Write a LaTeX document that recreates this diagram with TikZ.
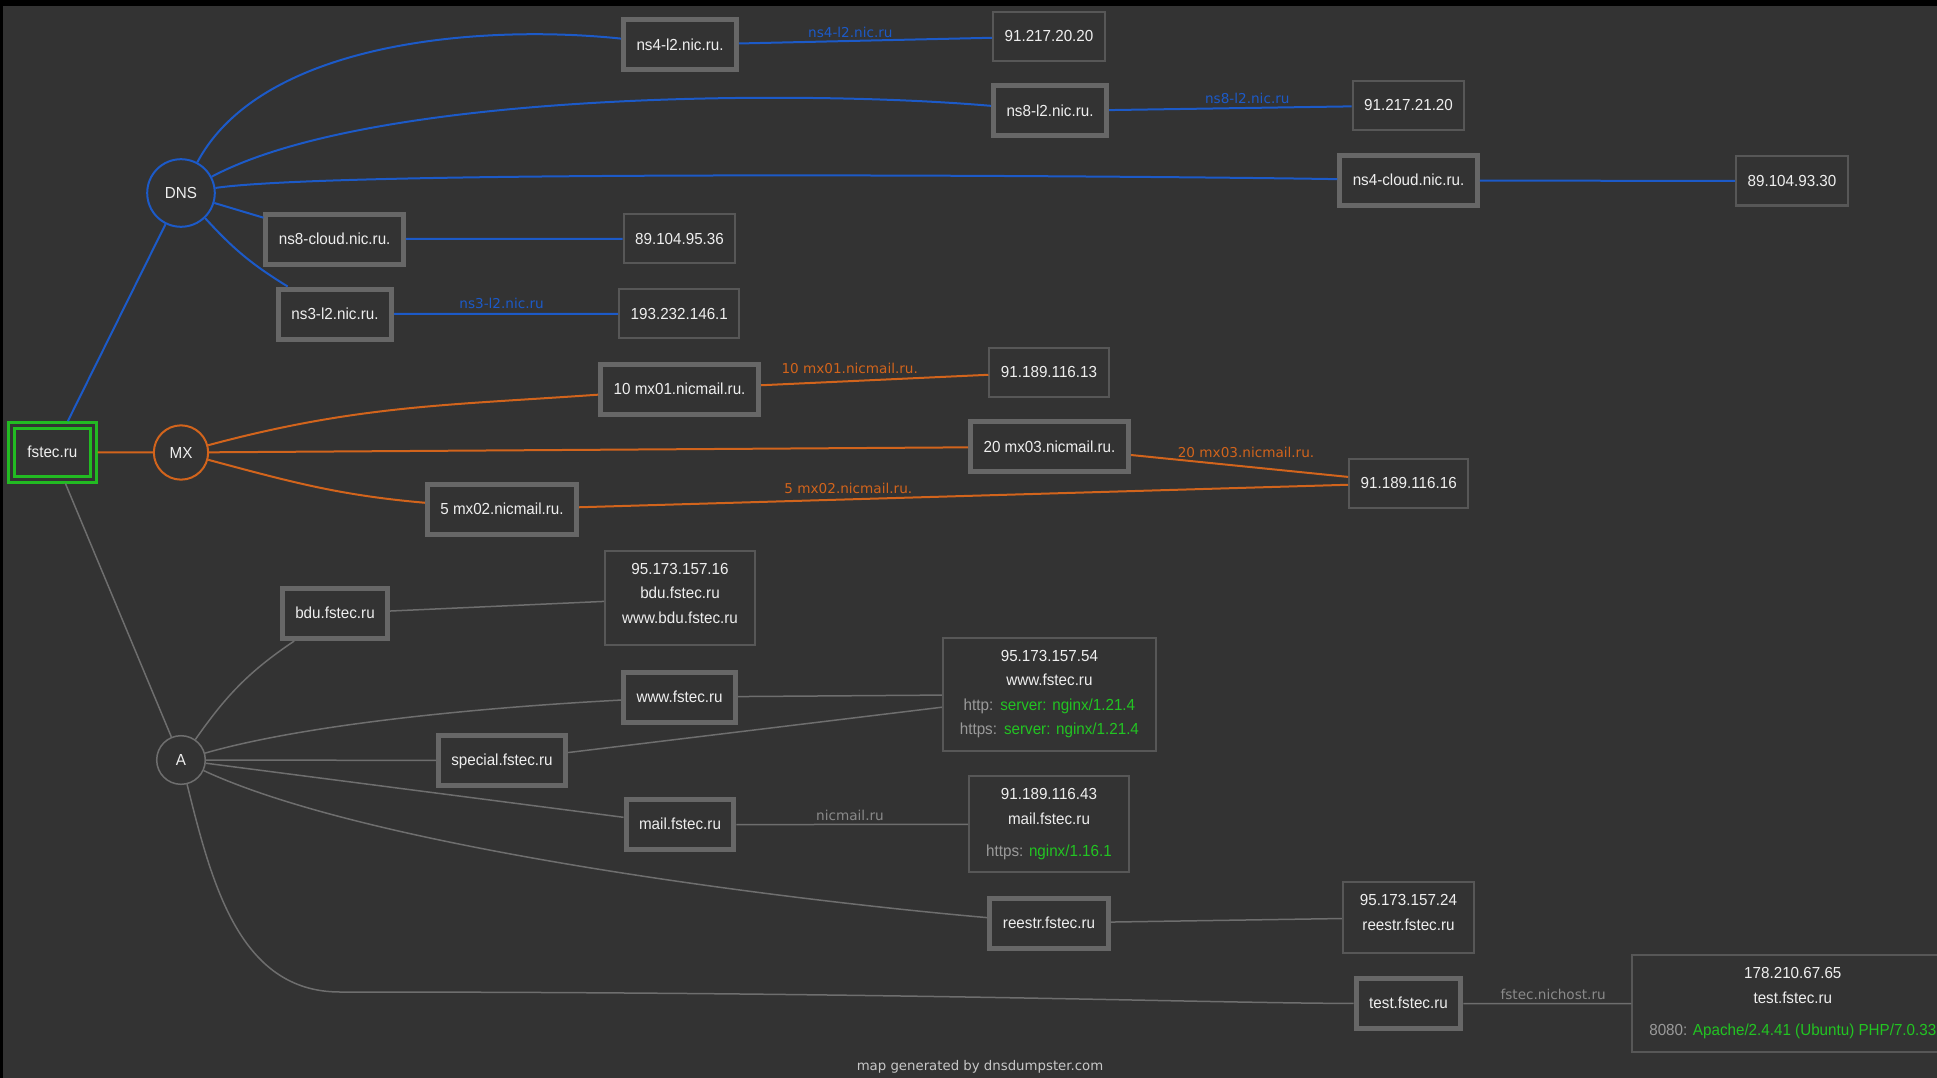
\documentclass[tikz,border=0pt]{standalone}
\usepackage{fontspec}
\setmainfont[FakeStretch=0.95]{Liberation Sans}
\newfontfamily\lblfont{DejaVu Sans}

\definecolor{bgcol}{HTML}{333333}
\definecolor{txtcol}{HTML}{EEEEEE}
\definecolor{boxgray}{HTML}{676767}
\definecolor{thingray}{HTML}{575757}
\definecolor{dnsblue}{HTML}{1C5AC8}
\definecolor{mxorange}{HTML}{D2641C}
\definecolor{agray}{HTML}{6E6E6E}
\definecolor{lblgray}{HTML}{8A8A8A}
\definecolor{svcgray}{HTML}{9A9A9A}
\definecolor{svcgreen}{HTML}{22C422}
\definecolor{rootgreen}{HTML}{22BB22}
\definecolor{footcol}{HTML}{C8C8C8}

\begin{document}
\begin{tikzpicture}[x=1pt, y=1pt, font=\fontsize{16}{24.5}\selectfont,
	hostbox/.style={draw=boxgray, line width=5pt, fill=bgcol, text=txtcol, minimum height=50pt, inner xsep=13pt, text height=10.6pt, text depth=0pt},
	ipbox/.style={draw=thingray, line width=2pt, fill=bgcol, text=txtcol, minimum height=49pt, inner xsep=11.5pt, text height=10.6pt, text depth=0pt},
	infobox/.style={draw=thingray, line width=2pt, fill=bgcol, text=txtcol, align=center, inner xsep=17pt, inner ysep=12.4pt},
	rrtype/.style={draw, circle, line width=2pt, fill=bgcol, text=txtcol, inner sep=0pt},
	dnsline/.style={color=dnsblue, line width=2pt},
	mxline/.style={color=mxorange, line width=2pt},
	aline/.style={color=agray, line width=1.5pt},
	elabel/.style={font=\lblfont\fontsize{13.6}{15}\selectfont, inner sep=0pt, above=2.5pt}]

	\useasboundingbox (0,0) rectangle (1937,-1078);
	\fill[black] (0,0) rectangle (1937,-1078);
	\fill[bgcol] (2.5,-6) rectangle (1937,-1078);
	\clip (0,0) rectangle (1937,-1078);

	% domain and record types
	\node[draw=rootgreen, line width=3pt, double=bgcol, double distance=2.5pt, fill=bgcol, text=txtcol, minimum width=82pt, minimum height=54pt, outer sep=4.2pt, text height=10.6pt, text depth=0pt] (fstec)at(52.4, -452.3) {fstec.ru};
	\node[rrtype, draw=dnsblue, minimum size=67.6pt] (dns)at(181, -193) {DNS};
	\node[rrtype, draw=mxorange, minimum size=54.3pt] (mx)at(181, -452.5) {MX};
	\node[rrtype, draw=agray, line width=1.5pt, minimum size=48.6pt] (a)at(181, -760) {A};

	% name servers
	\node[hostbox] (ns4l2)at(680, -44.8) {ns4-l2.nic.ru.};
	\node[ipbox] (ip9121720)at(1049, -36.5) {91.217.20.20};
	\node[hostbox] (ns8l2)at(1050, -111) {ns8-l2.nic.ru.};
	\node[ipbox] (ip9121721)at(1408.5, -105.5) {91.217.21.20};
	\node[hostbox] (ns4cloud)at(1408.5, -180.5) {ns4-cloud.nic.ru.};
	\node[ipbox] (ip8910493)at(1792, -181) {89.104.93.30};
	\node[hostbox] (ns8cloud)at(334.7, -239) {ns8-cloud.nic.ru.};
	\node[ipbox] (ip8910495)at(679.5, -238.7) {89.104.95.36};
	\node[hostbox] (ns3l2)at(335, -314) {ns3-l2.nic.ru.};
	\node[ipbox] (ip193)at(679.3, -313.7) {193.232.146.1};

	% mail servers
	\node[hostbox] (mx01)at(679.6, -389) {10 mx01.nicmail.ru.};
	\node[ipbox] (ip9118913)at(1049, -372) {91.189.116.13};
	\node[hostbox] (mx03)at(1049.5, -446.8) {20 mx03.nicmail.ru.};
	\node[ipbox] (ip9118916)at(1408.7, -483) {91.189.116.16};
	\node[hostbox] (mx02)at(502, -509.5) {5 mx02.nicmail.ru.};

	% hosts
	\node[hostbox] (bdu)at(335, -613.5) {bdu.fstec.ru};
	\node[infobox] (ipbdu)at(680, -598) {95.173.157.16\\bdu.fstec.ru\\www.bdu.fstec.ru\\[-14.5pt]\mbox{}};
	\node[hostbox] (www)at(679.6, -697) {www.fstec.ru};
	\node[hostbox] (special)at(502, -760.5) {special.fstec.ru};
	\node[infobox] (ipwww)at(1049.4, -694.3) {95.173.157.54\\www.fstec.ru\\\textcolor{svcgray}{http:}\hspace{7pt}\textcolor{svcgreen}{server: nginx/1.21.4}\\\textcolor{svcgray}{https:}\hspace{7pt}\textcolor{svcgreen}{server: nginx/1.21.4}};
	\node[hostbox] (mail)at(680, -824.6) {mail.fstec.ru};
	\node[infobox] (ipmail)at(1049, -824.3) {91.189.116.43\\mail.fstec.ru\\[8pt]\textcolor{svcgray}{https:} \textcolor{svcgreen}{nginx/1.16.1}};
	\node[hostbox] (reestr)at(1049, -923) {reestr.fstec.ru};
	\node[infobox] (ipreestr)at(1408.5, -917.5) {95.173.157.24\\reestr.fstec.ru\\[-14.5pt]\mbox{}};
	\node[hostbox] (test)at(1408.5, -1003.6) {test.fstec.ru};
	\node[infobox] (iptest)at(1792.8, -1003.5) {178.210.67.65\\test.fstec.ru\\[8pt]\textcolor{svcgray}{8080:} \textcolor{svcgreen}{Apache/2.4.41 (Ubuntu) PHP/7.0.33}};
	\coordinate (tbend) at (340, -992);

	\node[font=\lblfont\fontsize{13.3}{16}\selectfont, text=footcol] (credit)at(980, -1066.5) {map generated by dnsdumpster.com};

	% DNS records
	\draw[dnsline] (fstec) -- (dns);
	\draw[dnsline] (dns) to[out=62, in=174, looseness=0.8] (ns4l2);
	\draw[dnsline] (dns) to[out=28, in=175, looseness=0.6] (ns8l2);
	\draw[dnsline] (dns) .. controls (346.5, -168.7) and (1206, -176.7) .. (ns4cloud);
	\draw[dnsline] (dns) -- (ns8cloud);
	\draw[dnsline] (dns) to[bend right=8] (ns3l2);
	\draw[dnsline] (ns4l2) -- node[elabel, pos=0.44] {ns4-l2.nic.ru} (ip9121720);
	\draw[dnsline] (ns8l2) -- node[elabel, pos=0.57, above=1pt] {ns8-l2.nic.ru} (ip9121721);
	\draw[dnsline] (ns4cloud) -- (ip8910493);
	\draw[dnsline] (ns8cloud) -- (ip8910495);
	\draw[dnsline] (ns3l2) -- node[elabel, pos=0.48, above=2pt] {ns3-l2.nic.ru} (ip193);

	% MX records
	\draw[mxline] (fstec) -- (mx);
	\draw[mxline] (mx) to[out=15, in=184] (mx01);
	\draw[mxline] (mx) -- (mx03);
	\draw[mxline] (mx) to[out=-15, in=175] (mx02);
	\draw[mxline] (mx01) -- node[elabel, pos=0.39, above=4pt] {10 mx01.nicmail.ru.} (ip9118913);
	\draw[mxline] (mx03) -- node[elabel, pos=0.53, above=5.5pt] {20 mx03.nicmail.ru.} (ip9118916);
	\draw[mxline] (mx02) -- node[elabel, pos=0.35, above=2pt] {5 mx02.nicmail.ru.} (ip9118916);

	% A records
	\draw[aline] (fstec) -- (a);
	\draw[aline] (a) to[out=55, in=-146] (bdu);
	\draw[aline] (a) to[out=16, in=183, looseness=0.7] (www);
	\draw[aline] (a) -- (special);
	\draw[aline] (a) -- (mail);
	\draw[aline] (a) .. controls (373.5, -849.8) and (801.3, -901.4) .. (reestr);
	\draw[aline] (a) to[out=-76, in=180] (tbend) .. controls (900, -992) and (1200, -1003) .. (test);
	\draw[aline] (bdu) -- (ipbdu);
	\draw[aline] (www) -- (ipwww);
	\draw[aline] (special) -- (ipwww);
	\draw[aline] (mail) -- node[elabel, pos=0.49, above=1pt, text=lblgray] {nicmail.ru} (ipmail);
	\draw[aline] (reestr) -- (ipreestr);
	\draw[aline] (test) -- node[elabel, pos=0.535, above=1pt, text=lblgray] {fstec.nichost.ru} (iptest);
\end{tikzpicture}
\end{document}
